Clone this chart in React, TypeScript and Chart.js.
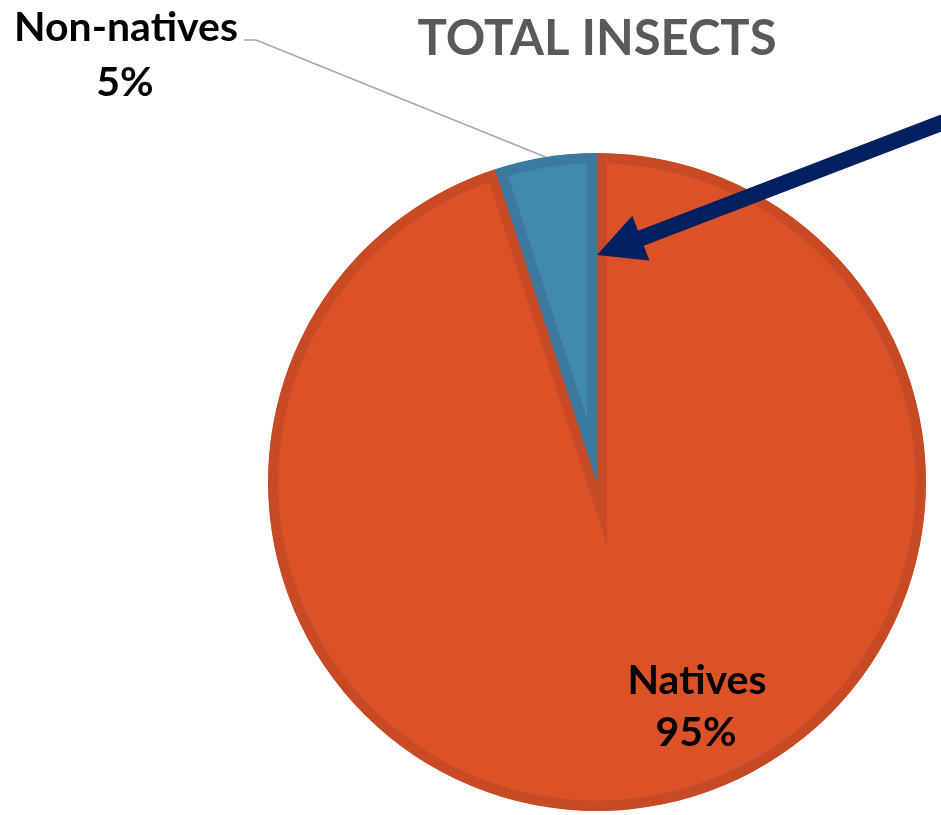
import React, { useEffect, useRef } from 'react';
import { Chart, registerables } from 'chart.js';

Chart.register(...registerables);

// Share of insects by origin (percent)
const categories = ['Natives', 'Non-natives'];
const shares = [95, 5];
const sliceFills = ['#DC5228', '#4289B0'];
const sliceEdges = ['#C84A24', '#3B7A9E'];
const chartTitle = 'TOTAL INSECTS';

const FONT = 'Lato, "Open Sans", "DejaVu Sans", sans-serif';

// Draws the title, the slice labels with their leader line and the pointer arrow.
const annotations = {
  id: 'insectAnnotations',
  afterDraw(chart: any) {
    const ctx: CanvasRenderingContext2D = chart.ctx;
    const meta = chart.getDatasetMeta(0);
    const natives = meta.data[0] as any;
    const nonNatives = meta.data[1] as any;
    const cx = natives.x;
    const cy = natives.y;
    const R = natives.outerRadius;

    ctx.save();

    // Title
    ctx.fillStyle = '#595959';
    ctx.font = `bold 49px ${FONT}`;
    ctx.textAlign = 'center';
    ctx.textBaseline = 'alphabetic';
    ctx.fillText(chartTitle, cx, 55);

    // Slice labels
    ctx.fillStyle = '#000000';
    ctx.font = `bold 41px ${FONT}`;
    ctx.fillText(categories[1], 126, 41);
    ctx.fillText(`${shares[1]}%`, 125, 96);
    ctx.fillText(categories[0], cx + 100, 694);
    ctx.fillText(`${shares[0]}%`, cx + 99, 746);

    // Leader line from the Non-natives label to its slice
    const mid = (nonNatives.startAngle + nonNatives.endAngle) / 2;
    const ex = cx + Math.cos(mid) * R;
    const ey = cy + Math.sin(mid) * R;
    ctx.strokeStyle = '#A6A6A6';
    ctx.lineWidth = 1.5;
    ctx.beginPath();
    ctx.moveTo(244, 40);
    ctx.lineTo(256, 40);
    ctx.lineTo(ex, ey);
    ctx.stroke();

    // Arrow pointing at the boundary between the two slices
    const tipX = cx + Math.cos(natives.startAngle) * R * 0.69;
    const tipY = cy + Math.sin(natives.startAngle) * R * 0.69;
    const dx = 0.9337;
    const dy = -0.358;
    const headLen = 47;
    const headHalf = 24;
    const shaft = 8;
    const bx = tipX + dx * headLen;
    const by = tipY + dy * headLen;
    const px = -dy;
    const py = dx;
    const tailX = tipX + dx * 420;
    const tailY = tipY + dy * 420;
    ctx.fillStyle = '#002060';
    ctx.beginPath();
    ctx.moveTo(tipX, tipY);
    ctx.lineTo(bx + px * headHalf, by + py * headHalf);
    ctx.lineTo(bx + px * shaft, by + py * shaft);
    ctx.lineTo(tailX + px * shaft, tailY + py * shaft);
    ctx.lineTo(tailX - px * shaft, tailY - py * shaft);
    ctx.lineTo(bx - px * shaft, by - py * shaft);
    ctx.lineTo(bx - px * headHalf, by - py * headHalf);
    ctx.closePath();
    ctx.fill();

    ctx.restore();
  },
};

export default function App() {
  const canvasRef = useRef<HTMLCanvasElement | null>(null);

  useEffect(() => {
    if (!canvasRef.current) return;
    const chart = new Chart(canvasRef.current, {
      type: 'pie',
      data: {
        labels: categories,
        datasets: [
          {
            data: shares,
            backgroundColor: sliceFills,
            borderColor: sliceEdges,
            borderWidth: 10,
            borderAlign: 'inner',
            borderJoinStyle: 'miter',
          } as any,
        ],
      },
      options: {
        animation: false,
        responsive: false,
        events: [],
        layout: { padding: { left: 268, right: 15, top: 153, bottom: 4 } },
        plugins: {
          legend: { display: false },
          tooltip: { enabled: false },
          title: { display: false },
        },
      },
      plugins: [annotations],
    });
    return () => chart.destroy();
  }, []);

  return (
    <div style={{ position: 'fixed', left: 0, top: 0, width: 941, height: 815, background: '#ffffff' }}>
      <canvas ref={canvasRef} width={941} height={815} style={{ display: 'block' }} />
    </div>
  );
}
